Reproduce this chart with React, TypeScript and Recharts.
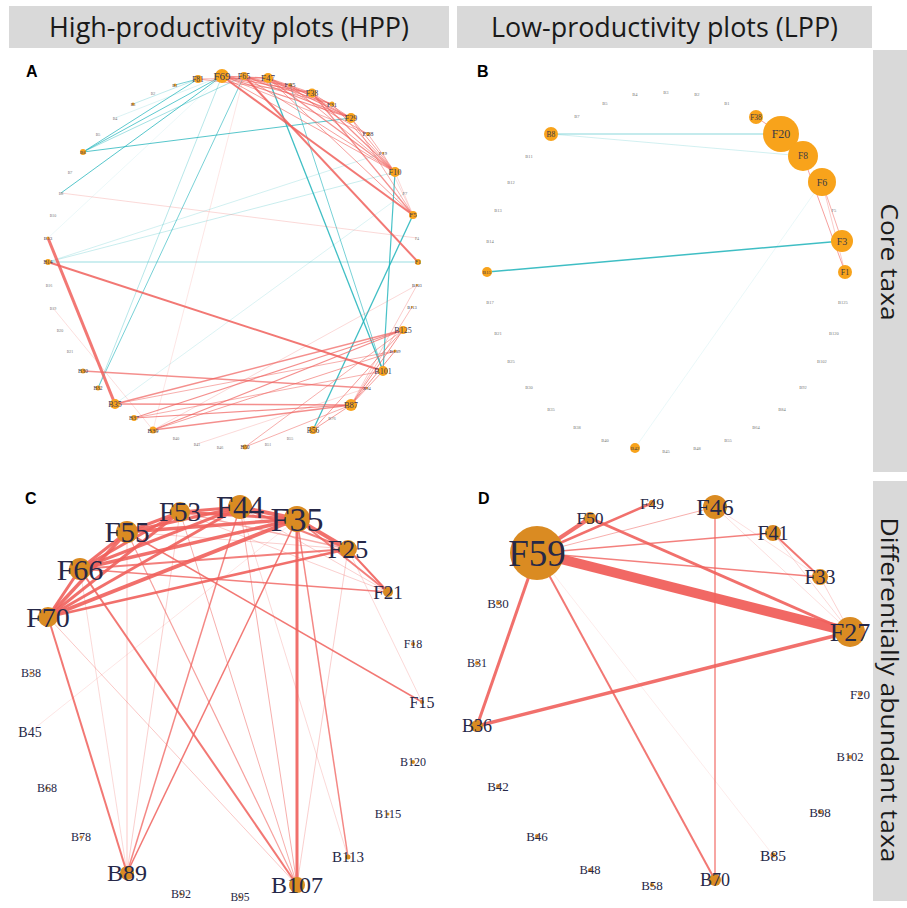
import React from 'react';
import { ScatterChart, Scatter, XAxis, YAxis } from 'recharts';

// node rows: [id, layoutX, layoutY, nodeSize, labelSize]
type NodeRow = [string, number, number, number, number];
// edge rows: [from, to, weight, strength] ; sign given by list
type EdgeRow = [string, string, number, number];

const hppCoreNodes: NodeRow[] = [
  ['F81', 198, 79, 4, 7.5], ['B1', 175, 85, 1.5, 4.5], ['B2', 153, 93, 0, 4], ['B3', 133, 104, 1.5, 4],
  ['B4', 115, 118, 0, 4], ['B5', 98, 134, 0, 4], ['B6', 83, 152, 3, 5], ['B7', 70, 172, 0, 4],
  ['B8', 61, 193, 0, 4], ['B10', 53, 215, 0, 4], ['B13', 48, 238, 1.5, 5], ['B14', 48, 262, 3, 5.5],
  ['B16', 49, 285, 0, 4], ['B19', 53, 308, 0, 4], ['B20', 60, 330, 0, 4], ['B21', 70, 351, 0, 4],
  ['B30', 83, 371, 2.5, 6], ['B32', 98, 388, 2.5, 5.5], ['B35', 115, 404, 5, 8], ['B37', 134, 418, 3, 6],
  ['B39', 153, 430, 3.5, 6.5], ['B40', 176, 438, 0, 4], ['B41', 197, 444, 0, 4], ['B46', 220, 447, 0, 4],
  ['B50', 245, 447, 2.5, 5.5], ['B51', 268, 444, 0, 4], ['B55', 290, 438, 0, 4], ['B56', 313, 430, 4, 7.5],
  ['B76', 332, 418, 0, 4.5], ['B87', 351, 405, 6, 8.5], ['B94', 367, 388, 1, 4.5], ['B101', 383, 371, 5, 8],
  ['B109', 395, 351, 1.5, 5], ['B125', 403, 330, 4, 8], ['B113', 412, 307, 1, 4.5], ['B103', 417, 285, 1, 4.5],
  ['F1', 418, 262, 3, 5.5], ['F4', 417, 238, 0, 4], ['F5', 413, 215, 4, 7], ['F7', 405, 193, 0, 4.5],
  ['F10', 395, 172, 5, 8.5], ['F19', 383, 153, 1, 5], ['F28', 368, 134, 2, 7], ['F29', 351, 118, 5, 8],
  ['F31', 332, 104, 2.5, 6.5], ['F38', 312, 93, 4.5, 8], ['F45', 290, 85, 2, 7], ['F47', 268, 78, 5, 9],
  ['F65', 244, 76, 4, 8], ['F69', 222, 76, 7, 11],
];

const hppCorePos: EdgeRow[] = [
  ['F69', 'F47', 1.2, 0.7], ['F69', 'F45', 1, 0.6], ['F69', 'F38', 1.2, 0.7], ['F69', 'F31', 1, 0.6],
  ['F69', 'F29', 1.2, 0.7], ['F69', 'F28', 1, 0.5], ['F69', 'F10', 1, 0.6], ['F69', 'F5', 2, 0.85],
  ['F81', 'F47', 1, 0.5], ['F81', 'F38', 1, 0.5], ['F65', 'F38', 1, 0.6], ['F65', 'F31', 1, 0.6],
  ['F65', 'F29', 1.2, 0.7], ['F65', 'F10', 1, 0.6], ['F65', 'F1', 2, 0.85], ['F47', 'F38', 1, 0.6],
  ['F47', 'F31', 1, 0.6], ['F47', 'F29', 1.2, 0.7], ['F47', 'F28', 1, 0.6], ['F47', 'F10', 1.2, 0.7],
  ['F47', 'F5', 1, 0.6], ['F45', 'F29', 1, 0.6], ['F45', 'F10', 1, 0.6], ['F38', 'F29', 1, 0.6],
  ['F38', 'F10', 1.2, 0.7], ['F38', 'F5', 1.2, 0.7], ['F31', 'F10', 1, 0.6], ['F29', 'F10', 1, 0.6],
  ['F29', 'F5', 1, 0.5], ['F28', 'F10', 1, 0.5], ['F19', 'F5', 0.8, 0.3], ['F10', 'F5', 0.8, 0.3],
  ['F65', 'B39', 0.8, 0.2], ['B13', 'B35', 3, 0.85], ['B14', 'B101', 2, 0.85], ['B8', 'F4', 0.8, 0.3],
  ['B19', 'B39', 0.8, 0.25], ['B30', 'B94', 1.5, 0.7], ['B35', 'B125', 1.5, 0.7], ['B35', 'B87', 1.5, 0.7],
  ['B35', 'B109', 1, 0.5], ['B37', 'B125', 1.2, 0.7], ['B37', 'B87', 1.2, 0.7], ['B37', 'B101', 1, 0.5],
  ['B39', 'B125', 1.2, 0.7], ['B39', 'B87', 1.5, 0.7], ['B39', 'B109', 1, 0.6], ['B39', 'B103', 0.8, 0.3],
  ['B50', 'B125', 1, 0.5], ['B50', 'B87', 1, 0.5], ['B41', 'B94', 0.8, 0.3], ['B56', 'B125', 1, 0.6],
  ['B56', 'B87', 1, 0.6], ['B87', 'B125', 1, 0.7], ['B87', 'B109', 1, 0.7], ['B87', 'B101', 1, 0.6],
  ['B87', 'B113', 0.8, 0.5], ['B87', 'B103', 0.8, 0.4],
];

const hppCoreNeg: EdgeRow[] = [
  ['B6', 'F69', 1, 0.7], ['B6', 'F81', 1, 0.7], ['B6', 'F65', 0.8, 0.5], ['B6', 'F29', 1, 0.75],
  ['B8', 'F69', 1, 0.75], ['B3', 'F81', 0.8, 0.35], ['B1', 'F81', 1, 0.6], ['B4', 'F69', 0.8, 0.2],
  ['F47', 'B101', 1.3, 0.85], ['F45', 'B101', 1, 0.6], ['F10', 'B101', 1.2, 0.8], ['F5', 'B56', 1.3, 0.85],
  ['F1', 'B14', 1, 0.45], ['B14', 'F19', 0.8, 0.25], ['B14', 'F10', 0.8, 0.3], ['B32', 'F69', 0.8, 0.4],
  ['B32', 'F65', 1, 0.6], ['B35', 'F7', 0.8, 0.2], ['B13', 'F69', 0.6, 0.15],
];

const lppCoreNodes: NodeRow[] = [
  ['B7', 577, 116, 0, 4.5], ['B5', 605, 103, 0, 4.5], ['B4', 635, 94, 0, 4.5], ['B3', 666, 92, 0, 4.5],
  ['B2', 697, 94, 0, 4.5], ['B1', 727, 103, 0, 4.5], ['F38', 756, 117, 7, 7.5], ['F20', 781, 134, 18, 12],
  ['F8', 803, 156, 15, 9.5], ['F6', 822, 182, 14, 10], ['F5', 834, 210, 0, 4.5], ['F3', 842, 241, 11, 10],
  ['F1', 845, 272, 7, 8], ['B125', 843, 302, 0, 4.5], ['B120', 834, 333, 0, 4.5], ['B102', 822, 361, 0, 4.5],
  ['B92', 803, 387, 0, 4.5], ['B84', 782, 409, 0, 4.5], ['B64', 756, 427, 0, 4.5], ['B55', 728, 440, 0, 4.5],
  ['B48', 697, 448, 0, 4.5], ['B45', 666, 451, 0, 4.5], ['B42', 635, 448, 5, 5], ['B40', 605, 440, 0, 4.5],
  ['B38', 577, 427, 0, 4.5], ['B35', 551, 409, 0, 4.5], ['B30', 529, 387, 0, 4.5], ['B25', 511, 361, 0, 4.5],
  ['B21', 498, 333, 0, 4.5], ['B17', 490, 302, 0, 4.5], ['B15', 487, 272, 5, 5], ['B14', 490, 241, 0, 4.5],
  ['B13', 498, 210, 0, 4.5], ['B12', 511, 182, 0, 4.5], ['B11', 529, 156, 0, 4.5], ['B8', 551, 134, 7, 7.5],
];

const lppCorePos: EdgeRow[] = [
  ['F38', 'F20', 1, 0.6], ['F20', 'F8', 1, 0.6], ['F8', 'F1', 1, 0.6], ['F6', 'F3', 1, 0.5], ['F6', 'F1', 0.8, 0.4],
];

const lppCoreNeg: EdgeRow[] = [
  ['B8', 'F20', 1.5, 0.35], ['B8', 'F8', 1, 0.2], ['B15', 'F3', 1.5, 0.85], ['B42', 'F6', 0.8, 0.12],
];

const hppDiffNodes: NodeRow[] = [
  ['F53', 180, 512, 10, 27], ['F44', 240, 507, 12, 31], ['F35', 297, 519, 13, 34], ['F55', 127, 532, 11, 29],
  ['F25', 348, 549, 9, 26], ['F66', 80, 569, 11, 30], ['F21', 388, 592, 5, 19], ['F70', 48, 617, 10, 28],
  ['F18', 413, 644, 2, 12], ['B38', 31, 673, 1.5, 12], ['F15', 422, 702, 2, 16], ['B45', 30, 732, 0, 14],
  ['B120', 413, 762, 2, 12], ['B68', 47, 788, 1.5, 12], ['B115', 388, 814, 1.5, 12.5], ['B78', 81, 837, 1.5, 12],
  ['B113', 348, 857, 2.5, 15], ['B89', 127, 873, 7, 24], ['B107', 297, 885, 8, 24], ['B92', 181, 894, 1.5, 12],
  ['B95', 240, 897, 1.5, 11.5],
];

const hppDiffPos: EdgeRow[] = [
  ['F70', 'F66', 3, 0.9], ['F70', 'F55', 3.5, 0.9], ['F70', 'F53', 3, 0.9], ['F70', 'F44', 3, 0.9],
  ['F70', 'F35', 4, 0.9], ['F70', 'F25', 2.5, 0.9], ['F66', 'F55', 3, 0.9], ['F66', 'F53', 3, 0.9],
  ['F66', 'F44', 3, 0.9], ['F66', 'F35', 3.5, 0.9], ['F66', 'F25', 2, 0.8], ['F66', 'F21', 1.5, 0.8],
  ['F55', 'F53', 3, 0.9], ['F55', 'F44', 3, 0.9], ['F55', 'F35', 3.5, 0.9], ['F55', 'F25', 1, 0.3],
  ['F53', 'F44', 3, 0.9], ['F53', 'F35', 3, 0.9], ['F53', 'F25', 1.5, 0.5], ['F44', 'F35', 4, 0.9],
  ['F44', 'F25', 2, 0.8], ['F35', 'F25', 4, 0.9], ['F35', 'F21', 2, 0.8], ['F25', 'F21', 2, 0.9],
  ['F44', 'F21', 1, 0.3], ['F53', 'F21', 1, 0.3], ['F70', 'B89', 2, 0.85], ['F70', 'B107', 1, 0.35],
  ['F66', 'B89', 0.8, 0.3], ['F55', 'B89', 1, 0.35], ['F53', 'B89', 1, 0.3], ['F44', 'B89', 1.5, 0.75],
  ['F35', 'B89', 1.5, 0.85], ['F66', 'B107', 2, 0.85], ['F55', 'B107', 1.2, 0.6], ['F53', 'B107', 1, 0.5],
  ['F44', 'B107', 1, 0.5], ['F35', 'B107', 3, 0.9], ['F25', 'B107', 1, 0.3], ['F35', 'B113', 1.5, 0.75],
  ['F44', 'B113', 0.8, 0.3], ['F55', 'F15', 1.5, 0.85], ['F25', 'F15', 0.8, 0.3], ['F35', 'B45', 0.8, 0.2],
];

const lppDiffNodes: NodeRow[] = [
  ['F59', 537, 553, 27, 37], ['F50', 590, 518, 6, 17.5], ['F49', 652, 503, 3, 15.5], ['F46', 715, 507, 12, 24],
  ['F41', 773, 533, 8, 20], ['F33', 820, 577, 8, 20], ['F27', 850, 632, 15, 26], ['F20', 860, 694, 2, 13],
  ['B102', 850, 757, 2, 12.5], ['B98', 820, 812, 2, 13], ['B85', 773, 855, 2.5, 15.5], ['B70', 715, 880, 6, 18],
  ['B58', 652, 885, 2, 13], ['B48', 590, 870, 2, 12.5], ['B46', 537, 836, 2, 13], ['B42', 498, 786, 2, 13],
  ['B36', 477, 726, 6, 18], ['B31', 477, 663, 2, 12], ['B30', 498, 603, 2, 13],
];

const lppDiffPos: EdgeRow[] = [
  ['F59', 'F27', 10, 0.95], ['F59', 'F50', 4, 0.9], ['F59', 'F49', 2.5, 0.9], ['F59', 'F46', 1, 0.5],
  ['F59', 'F41', 1.5, 0.8], ['F59', 'F33', 1.5, 0.8], ['F59', 'B36', 3, 0.9], ['F59', 'B70', 2, 0.85],
  ['F59', 'B85', 1, 0.12], ['F50', 'F27', 3, 0.9], ['B36', 'F27', 3.5, 0.9], ['F46', 'B70', 1.5, 0.75],
  ['F46', 'F27', 0.8, 0.25], ['F46', 'F33', 0.8, 0.25], ['F41', 'F33', 2, 0.85], ['F41', 'F27', 0.8, 0.3],
  ['F33', 'F27', 0.8, 0.35],
];

const colLabels = ['High-productivity plots (HPP)', 'Low-productivity plots (LPP)'];
const rowLabels = ['Core taxa', 'Differentially abundant taxa'];

const RED = '#F0605C';
const TEAL = '#1DB3BA';
const SERIF = '"Liberation Serif", "Times New Roman", serif';
const STRIP_FONT = '"Open Sans", sans-serif';

type Box = { x: number; y: number; w: number; h: number };

const makeNodeShape = (fill: string, textFill: string, faintText: string) => (props: any) => {
  const { cx, cy, payload } = props;
  if (cx == null || cy == null) return <g />;
  return (
    <g>
      {payload.r > 0 && <circle cx={cx} cy={cy} r={payload.r} fill={fill} />}
      <text
        x={cx}
        y={cy}
        textAnchor="middle"
        dominantBaseline="central"
        fontFamily={SERIF}
        fontSize={payload.fs}
        fill={payload.r > 0 ? textFill : faintText}
      >
        {payload.id}
      </text>
    </g>
  );
};

const NetworkPanel: React.FC<{
  nodes: NodeRow[];
  pos: EdgeRow[];
  neg: EdgeRow[];
  box: Box;
  nodeFill: string;
  textFill: string;
  faintText: string;
  tag: string;
}> = ({ nodes, pos, neg, box, nodeFill, textFill, faintText, tag }) => {
  const data = nodes.map(([id, x, y, r, fs]) => ({ id, x, y, r, fs }));
  const byId = new Map(data.map((d) => [d.id, d]));
  // negative links first, positive ones drawn over them
  const edges = [
    ...neg.map((e) => ({ e, color: TEAL })),
    ...pos.map((e) => ({ e, color: RED })),
  ];
  const nodeShape = makeNodeShape(nodeFill, textFill, faintText);
  return (
    <div style={{ position: 'absolute', left: box.x, top: box.y }}>
      <ScatterChart width={box.w} height={box.h} margin={{ top: 0, right: 0, bottom: 0, left: 0 }}>
        <XAxis type="number" dataKey="x" domain={[box.x, box.x + box.w]} hide />
        <YAxis type="number" dataKey="y" domain={[box.y, box.y + box.h]} reversed hide />
        {edges.map(({ e, color }, i) => {
          const a = byId.get(e[0]);
          const b = byId.get(e[1]);
          if (!a || !b) return null;
          return (
            <Scatter
              key={`${tag}-e${i}`}
              data={[a, b]}
              fill={color}
              line={{ stroke: color, strokeWidth: e[2], strokeOpacity: e[3] }}
              shape={() => <g />}
              isAnimationActive={false}
            />
          );
        })}
        <Scatter key={`${tag}-nodes`} data={data} shape={nodeShape} isAnimationActive={false} />
      </ScatterChart>
    </div>
  );
};

const PanelTag: React.FC<{ x: number; y: number; text: string }> = ({ x, y, text }) => (
  <div
    style={{
      position: 'absolute',
      left: x,
      top: y,
      fontFamily: '"Liberation Sans", Arial, sans-serif',
      fontWeight: 'bold',
      fontSize: 16,
      lineHeight: '16px',
      color: '#000',
    }}
  >
    {text}
  </div>
);

const App: React.FC = () => {
  return (
    <div style={{ position: 'absolute', left: 0, top: 0, width: 907, height: 908, background: '#fff', overflow: 'hidden' }}>
      {/* facet strips */}
      <svg width={907} height={908} style={{ position: 'absolute', left: 0, top: 0 }}>
        <rect x={9} y={6} width={440} height={42} fill="#d9d9d9" />
        <rect x={457} y={6} width={415} height={42} fill="#d9d9d9" />
        <rect x={873} y={50} width={34} height={422} fill="#d9d9d9" />
        <rect x={873} y={481} width={34} height={420} fill="#d9d9d9" />
        <text x={229} y={37} textAnchor="middle" fontFamily={STRIP_FONT} fontSize={27}
          textLength={360} lengthAdjust="spacingAndGlyphs" fill="#1a1a1a">{colLabels[0]}</text>
        <text x={664.5} y={37} textAnchor="middle" fontFamily={STRIP_FONT} fontSize={27}
          textLength={347} lengthAdjust="spacingAndGlyphs" fill="#1a1a1a">{colLabels[1]}</text>
        <g transform="translate(890,262) rotate(90)">
          <text x={0} y={9} textAnchor="middle" fontFamily={STRIP_FONT} fontSize={24}
            textLength={117} lengthAdjust="spacingAndGlyphs" fill="#1a1a1a">{rowLabels[0]}</text>
        </g>
        <g transform="translate(890,690) rotate(90)">
          <text x={0} y={9} textAnchor="middle" fontFamily={STRIP_FONT} fontSize={24}
            textLength={345} lengthAdjust="spacingAndGlyphs" fill="#1a1a1a">{rowLabels[1]}</text>
        </g>
      </svg>

      <NetworkPanel tag="A" nodes={hppCoreNodes} pos={hppCorePos} neg={hppCoreNeg}
        box={{ x: 8, y: 50, w: 441, h: 422 }} nodeFill="#F8A31B" textFill="#3a3a55" faintText="#777" />
      <NetworkPanel tag="B" nodes={lppCoreNodes} pos={lppCorePos} neg={lppCoreNeg}
        box={{ x: 457, y: 50, w: 415, h: 422 }} nodeFill="#F8A31B" textFill="#3a3a45" faintText="#777" />
      <NetworkPanel tag="C" nodes={hppDiffNodes} pos={hppDiffPos} neg={[]}
        box={{ x: 8, y: 478, w: 441, h: 430 }} nodeFill="#DA8B22" textFill="#262848" faintText="#262848" />
      <NetworkPanel tag="D" nodes={lppDiffNodes} pos={lppDiffPos} neg={[]}
        box={{ x: 457, y: 478, w: 415, h: 430 }} nodeFill="#DA8B22" textFill="#262848" faintText="#262848" />

      <PanelTag x={26} y={64} text="A" />
      <PanelTag x={477} y={64} text="B" />
      <PanelTag x={25} y={491} text="C" />
      <PanelTag x={478} y={491} text="D" />
    </div>
  );
};

export default App;
